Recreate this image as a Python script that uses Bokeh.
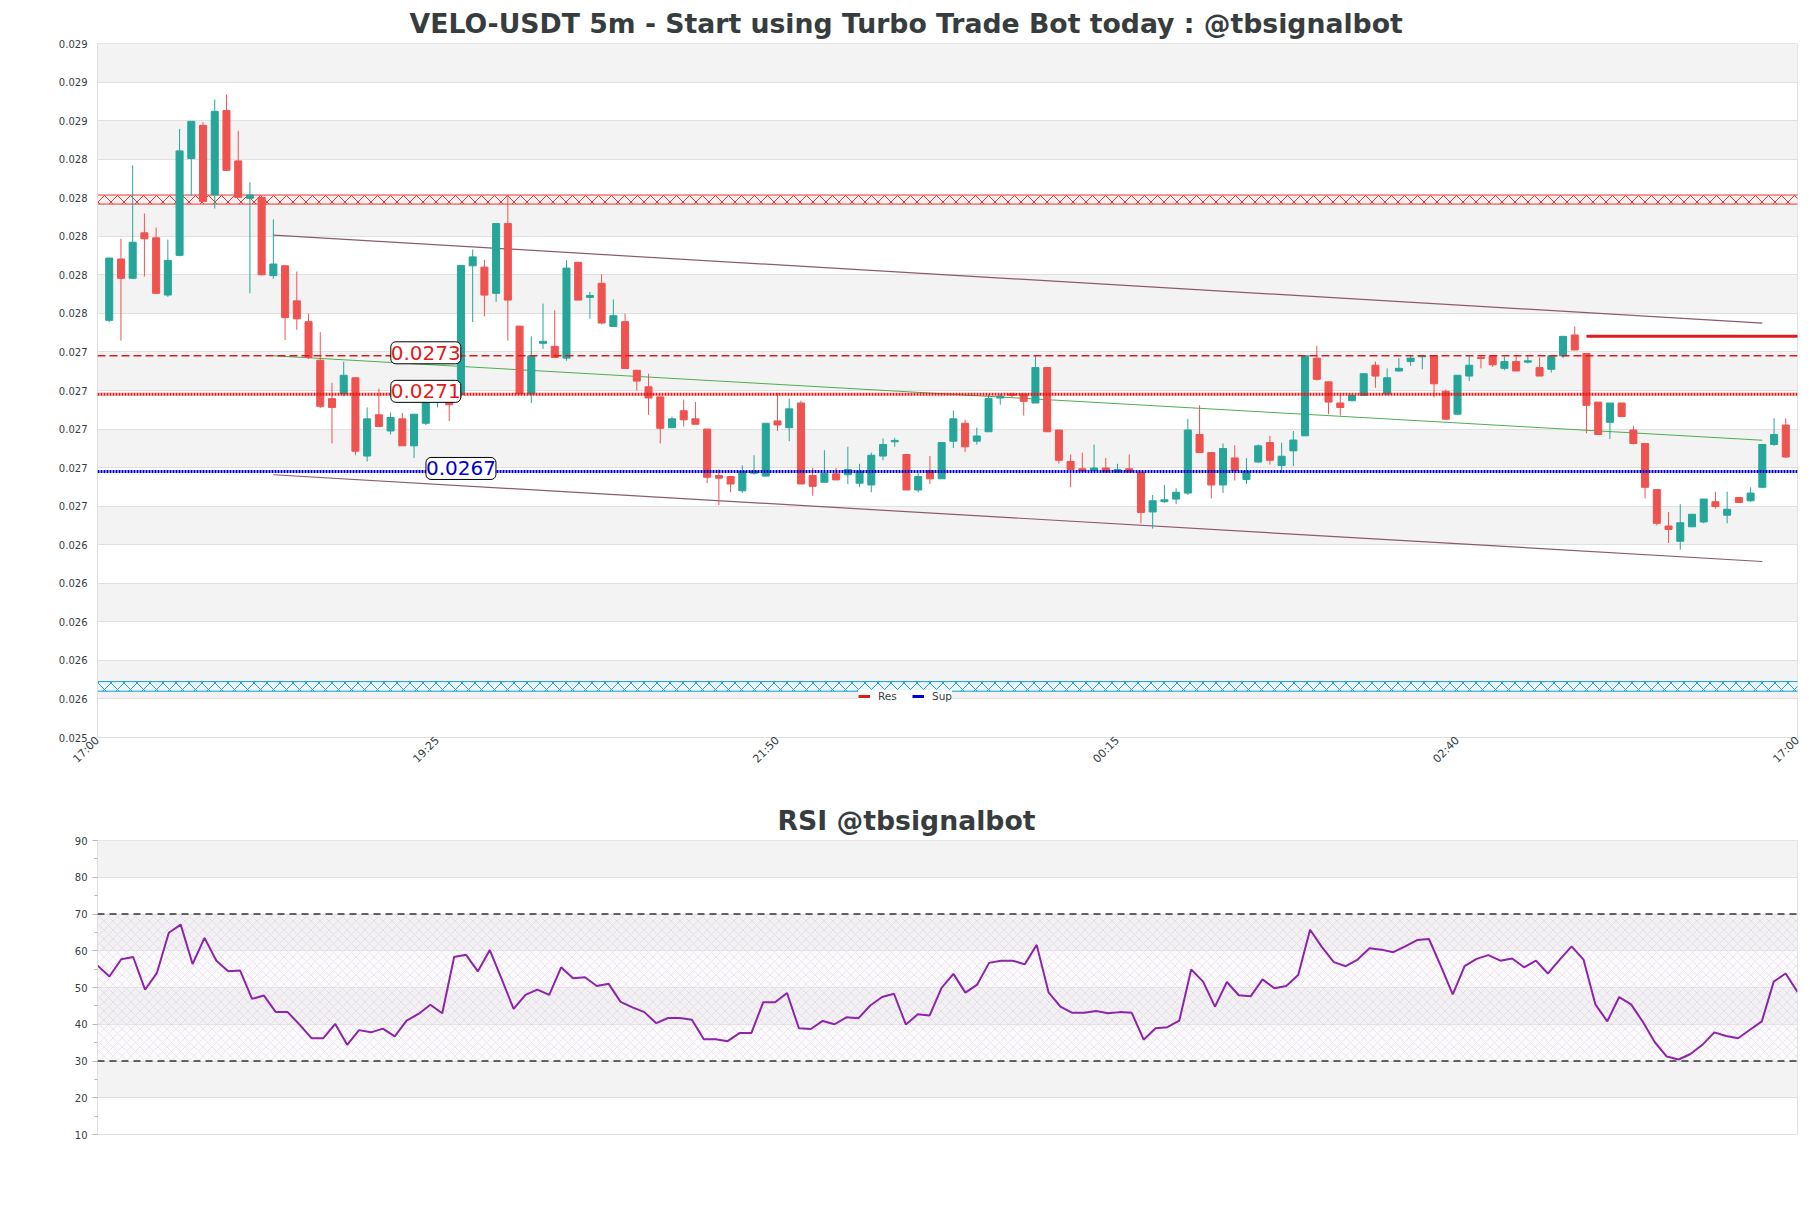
import math
from bokeh.plotting import figure
from bokeh.layouts import column
from bokeh.models import (Range1d, FixedTicker, Span, Label, Legend, LegendItem,
                          ColumnDataSource, PrintfTickFormatter)
from bokeh.embed import file_html
from bokeh.resources import INLINE

# ---------------- data ----------------
opens = [0.027484, 0.027802, 0.027702, 0.027938, 0.027912, 0.027615, 0.027821, 0.028323, 0.028495, 0.028134,
         0.028572, 0.028311, 0.028117, 0.028122, 0.027716, 0.027767, 0.027585, 0.027477, 0.027277, 0.027078,
         0.027102, 0.027186, 0.026780, 0.026994, 0.026910, 0.026973, 0.026833, 0.026950, 0.027081, 0.027064,
         0.027099, 0.027767, 0.027760, 0.027624, 0.027986, 0.027454, 0.027102, 0.027365, 0.027349, 0.027288,
         0.027785, 0.027603, 0.027676, 0.027452, 0.027477, 0.027225, 0.027139, 0.027087, 0.026927, 0.027015,
         0.026973, 0.026920, 0.026679, 0.026674, 0.026600, 0.026691, 0.026676, 0.026962, 0.026927, 0.027055,
         0.026679, 0.026644, 0.026688, 0.026683, 0.026639, 0.026630, 0.026780, 0.026854, 0.026788, 0.026604,
         0.026705, 0.026662, 0.026857, 0.026950, 0.026857, 0.026906, 0.027081, 0.027102, 0.027102, 0.027055,
         0.027239, 0.026915, 0.026752, 0.026714, 0.026705, 0.026718, 0.026697, 0.026714, 0.026697, 0.026490,
         0.026543, 0.026557, 0.026588, 0.026892, 0.026798, 0.026630, 0.026770, 0.026658, 0.026749, 0.026850,
         0.026731, 0.026807, 0.026885, 0.027288, 0.027165, 0.027055, 0.027067, 0.027095, 0.027251, 0.027102,
         0.027221, 0.027270, 0.027295, 0.027300, 0.027116, 0.026997, 0.027195, 0.027291, 0.027300, 0.027235,
         0.027270, 0.027267, 0.027239, 0.027230, 0.027300, 0.027408, 0.027312, 0.027060, 0.026955, 0.027055,
         0.026915, 0.026845, 0.026606, 0.026417, 0.026338, 0.026413, 0.026438, 0.026543, 0.026473, 0.026565,
         0.026548, 0.026618, 0.026840, 0.026941]
highs = [0.027807, 0.027907, 0.028288, 0.028038, 0.027965, 0.027903, 0.028477, 0.028516, 0.028512, 0.028629,
         0.028656, 0.028467, 0.028200, 0.028122, 0.028008, 0.027767, 0.027737, 0.027519, 0.027422, 0.027160,
         0.027270, 0.027186, 0.027032, 0.027130, 0.027006, 0.027003, 0.026997, 0.027081, 0.027143, 0.027130,
         0.027769, 0.027851, 0.027798, 0.027986, 0.028134, 0.027454, 0.027401, 0.027571, 0.027536, 0.027795,
         0.027785, 0.027632, 0.027723, 0.027592, 0.027519, 0.027225, 0.027207, 0.027087, 0.026985, 0.027073,
         0.027060, 0.026920, 0.026710, 0.026674, 0.026731, 0.026784, 0.026950, 0.027108, 0.027078, 0.027067,
         0.026718, 0.026810, 0.026718, 0.026828, 0.026740, 0.026798, 0.026871, 0.026875, 0.026788, 0.026691,
         0.026780, 0.026850, 0.027015, 0.026968, 0.026927, 0.027099, 0.027102, 0.027108, 0.027102, 0.027300,
         0.027239, 0.026915, 0.026788, 0.026798, 0.026840, 0.026770, 0.026740, 0.026788, 0.026697, 0.026578,
         0.026630, 0.026613, 0.026973, 0.027043, 0.026798, 0.026845, 0.026836, 0.026770, 0.026840, 0.026885,
         0.026850, 0.026910, 0.027300, 0.027352, 0.027165, 0.027099, 0.027102, 0.027207, 0.027270, 0.027235,
         0.027288, 0.027305, 0.027305, 0.027300, 0.027125, 0.027199, 0.027300, 0.027300, 0.027300, 0.027295,
         0.027300, 0.027300, 0.027291, 0.027300, 0.027401, 0.027452, 0.027312, 0.027060, 0.027055, 0.027055,
         0.026938, 0.026845, 0.026606, 0.026490, 0.026530, 0.026478, 0.026557, 0.026595, 0.026595, 0.026565,
         0.026618, 0.026840, 0.026976, 0.026976]
lows = [0.027475, 0.027379, 0.027702, 0.027711, 0.027620, 0.027606, 0.027816, 0.028131, 0.028100, 0.028064,
        0.028260, 0.028120, 0.027624, 0.027720, 0.027699, 0.027382, 0.027435, 0.027283, 0.027029, 0.026845,
        0.027090, 0.026784, 0.026752, 0.026933, 0.026892, 0.026833, 0.026770, 0.026941, 0.027032, 0.026962,
        0.027081, 0.027475, 0.027505, 0.027580, 0.027379, 0.027100, 0.027055, 0.027335, 0.027290, 0.027274,
        0.027589, 0.027492, 0.027463, 0.027452, 0.027233, 0.027120, 0.026994, 0.026845, 0.026927, 0.026933,
        0.026945, 0.026640, 0.026525, 0.026592, 0.026588, 0.026683, 0.026676, 0.026910, 0.026857, 0.026635,
        0.026574, 0.026644, 0.026656, 0.026635, 0.026618, 0.026592, 0.026758, 0.026828, 0.026604, 0.026592,
        0.026635, 0.026662, 0.026822, 0.026801, 0.026840, 0.026906, 0.027046, 0.027081, 0.026990, 0.027055,
        0.026906, 0.026740, 0.026618, 0.026697, 0.026700, 0.026693, 0.026693, 0.026693, 0.026431, 0.026403,
        0.026536, 0.026530, 0.026578, 0.026798, 0.026560, 0.026588, 0.026653, 0.026635, 0.026745, 0.026735,
        0.026693, 0.026728, 0.026885, 0.027172, 0.026997, 0.026990, 0.027064, 0.027095, 0.027134, 0.027095,
        0.027218, 0.027248, 0.027230, 0.027085, 0.026971, 0.026994, 0.027169, 0.027235, 0.027242, 0.027225,
        0.027221, 0.027260, 0.027195, 0.027213, 0.027288, 0.027330, 0.026898, 0.026892, 0.026868, 0.026985,
        0.026840, 0.026560, 0.026420, 0.026329, 0.026294, 0.026413, 0.026431, 0.026508, 0.026431, 0.026539,
        0.026543, 0.026618, 0.026833, 0.026770]
closes = [0.027807, 0.027702, 0.027889, 0.027907, 0.027624, 0.027795, 0.028363, 0.028516, 0.028101, 0.028568,
          0.028262, 0.028122, 0.028134, 0.027720, 0.027776, 0.027498, 0.027492, 0.027291, 0.027038, 0.027032,
          0.027199, 0.026805, 0.026973, 0.026933, 0.026980, 0.026833, 0.026997, 0.027064, 0.027108, 0.027046,
          0.027769, 0.027813, 0.027615, 0.027986, 0.027589, 0.027102, 0.027300, 0.027375, 0.027291, 0.027755,
          0.027589, 0.027613, 0.027470, 0.027508, 0.027234, 0.027169, 0.027081, 0.026924, 0.026973, 0.026968,
          0.026945, 0.026670, 0.026665, 0.026635, 0.026700, 0.026702, 0.026950, 0.026941, 0.027025, 0.026635,
          0.026623, 0.026691, 0.026656, 0.026710, 0.026700, 0.026784, 0.026840, 0.026861, 0.026604, 0.026674,
          0.026662, 0.026850, 0.026973, 0.026828, 0.026884, 0.027078, 0.027090, 0.027095, 0.027064, 0.027239,
          0.026906, 0.026758, 0.026710, 0.026702, 0.026718, 0.026697, 0.026709, 0.026697, 0.026487, 0.026548,
          0.026553, 0.026592, 0.026915, 0.026798, 0.026630, 0.026819, 0.026705, 0.026700, 0.026833, 0.026758,
          0.026779, 0.026863, 0.027300, 0.027178, 0.027060, 0.027032, 0.027095, 0.027207, 0.027195, 0.027186,
          0.027235, 0.027288, 0.027300, 0.027155, 0.026971, 0.027199, 0.027251, 0.027286, 0.027253, 0.027270,
          0.027221, 0.027274, 0.027195, 0.027300, 0.027401, 0.027330, 0.027043, 0.026892, 0.027055, 0.026985,
          0.026845, 0.026618, 0.026431, 0.026399, 0.026434, 0.026478, 0.026557, 0.026518, 0.026504, 0.026539,
          0.026588, 0.026840, 0.026892, 0.026775]

rsi = [56.0, 53.0, 57.7, 58.3, 49.4, 54.0, 64.9, 67.1, 56.4, 63.5, 57.3, 54.4, 54.6, 46.9, 47.8, 43.3, 43.3,
       39.9, 36.2, 36.2, 40.1, 34.4, 38.4, 37.8, 38.8, 36.7, 41.0, 42.8, 45.3, 43.0, 58.3, 58.9, 54.4, 60.2,
       52.3, 44.2, 48.0, 49.4, 48.0, 55.5, 52.5, 52.8, 50.4,
       51.0, 46.1, 44.6, 43.3, 40.3, 41.7, 41.7, 41.2, 35.9, 35.9, 35.4, 37.6, 37.6, 46.0, 46.0, 48.5, 38.9,
       38.7, 40.9, 40.0, 41.9, 41.6, 45.1, 47.4, 48.3, 39.9, 42.7, 42.4, 49.9, 53.7, 48.6, 50.8, 56.7, 57.3,
       57.3, 56.3, 61.6, 48.7, 44.8, 43.1, 43.1, 43.6, 43.0, 43.3, 43.1, 35.8, 38.9, 39.2, 41.0, 54.9, 51.6,
       44.8, 51.5, 47.9, 47.6, 52.2, 49.8, 50.4, 53.4, 65.7, 61.0, 56.9, 55.8, 57.6, 60.7, 60.3, 59.6, 61.2,
       62.9, 63.2, 55.8, 48.1, 55.8, 57.8, 58.8, 57.3, 57.9, 55.5, 57.3, 53.8, 57.6, 61.2, 57.6, 45.4, 40.8,
       47.4, 45.4, 40.6, 35.1, 31.2, 30.4, 31.9, 34.4, 37.8, 36.8, 36.2, 38.5, 40.8, 51.6, 53.8, 48.8]

x_tick_labels = ["17:00", "19:25", "21:50", "00:15", "02:40", "17:00"]
x_tick_step = 29

res_levels = [0.0273, 0.0271]
sup_levels = [0.0267]
res_zone = [0.028087, 0.028134]
sup_zone = [0.025560, 0.025610]
trend_x = [15, 142]
upper_channel = [0.027926, 0.027470]
lower_channel = [0.026683, 0.026233]
mid_trend = [0.027300, 0.026862]
target_x = [127, 146]
target_y = [0.027401, 0.027401]

y_min, y_max, y_step = 0.02532, 0.02892, 0.0002
rsi_ticks = [10, 20, 30, 40, 50, 60, 70, 80, 90]
rsi_minor = [15, 25, 35, 45, 55, 65, 75, 85]
rsi_levels = [70, 30]

# ---------------- styles ----------------
GREEN = "#26a69a"
RED = "#ef5350"
LINE_RED = "#e01b1b"
LINE_BLUE = "#0000d0"
TXT = "#373d3f"
GRID = "#e0e0e0"
BAND = "#f3f3f3"
FONT = "DejaVu Sans"
TITLE_SIZE = "26.7px"

n = len(opens)
xs = list(range(1, n + 1))
colors = [GREEN if c >= o else RED for o, c in zip(opens, closes)]
src = ColumnDataSource(dict(
    x=xs, high=highs, low=lows,
    top=[max(o, c) for o, c in zip(opens, closes)],
    bottom=[min(o, c) for o, c in zip(opens, closes)],
    color=colors))

y_ticks = [round(y_min + k * y_step, 6) for k in range(int(round((y_max - y_min) / y_step)) + 1)]
x_ticks = list(range(0, n + 2, x_tick_step))
x_lo, x_hi = -1, n + 3

p = figure(width=1811, height=790, x_range=Range1d(0, n + 1), y_range=Range1d(y_min, y_max),
           output_backend="svg", toolbar_location=None,
           min_border_left=97, min_border_right=14, min_border_top=43, min_border_bottom=53)
p.title.text = "VELO-USDT 5m - Start using Turbo Trade Bot today : @tbsignalbot"
p.title.align = "left"
p.title.offset = 312
p.title.text_font = FONT
p.title.text_font_size = TITLE_SIZE
p.title.text_font_style = "bold"
p.title.text_color = TXT
p.background_fill_color = "white"
p.border_fill_color = "white"
p.outline_line_color = GRID

p.xgrid.visible = False
p.ygrid.ticker = FixedTicker(ticks=y_ticks)
p.ygrid.grid_line_color = GRID
p.ygrid.band_fill_color = BAND
p.ygrid.band_fill_alpha = 1

p.yaxis.ticker = FixedTicker(ticks=y_ticks)
p.yaxis.formatter = PrintfTickFormatter(format="%.3f")
p.yaxis.major_tick_line_color = None
p.yaxis.minor_tick_line_color = None
p.yaxis.major_tick_out = 0
p.yaxis.major_tick_in = 0
p.yaxis.minor_tick_out = 0
p.yaxis.axis_line_color = GRID
p.yaxis.major_label_text_font = FONT
p.yaxis.major_label_text_font_size = "10px"
p.yaxis.major_label_text_color = TXT
p.yaxis.major_label_standoff = 10

p.xaxis.ticker = FixedTicker(ticks=x_ticks)
p.xaxis.major_label_overrides = {t: lab for t, lab in zip(x_ticks, x_tick_labels)}
p.xaxis.major_label_orientation = math.pi / 4
p.xaxis.major_tick_line_color = None
p.xaxis.minor_tick_line_color = None
p.xaxis.major_tick_out = 0
p.xaxis.major_tick_in = 0
p.xaxis.minor_tick_out = 0
p.xaxis.axis_line_color = GRID
p.xaxis.major_label_text_font = FONT
p.xaxis.major_label_text_font_size = "11px"
p.xaxis.major_label_text_color = TXT
p.xaxis.major_label_standoff = 1

# zones
p.quad(left=x_lo, right=x_hi, bottom=res_zone[0], top=res_zone[1], fill_color="#ffecec", fill_alpha=0.7,
       hatch_pattern="diagonal_cross", hatch_color="#e53935", hatch_scale=13, hatch_weight=1,
       line_color="#e53935", line_width=1)
p.quad(left=x_lo, right=x_hi, bottom=sup_zone[0], top=sup_zone[1], fill_color="#e8f6fd", fill_alpha=0.7,
       hatch_pattern="diagonal_cross", hatch_color="#1a9fd9", hatch_scale=13, hatch_weight=1,
       line_color="#1a9fd9", line_width=1)

# channel / trend lines
p.line(trend_x, upper_channel, line_color="#8d5a6e", line_width=1.2)
p.line(trend_x, lower_channel, line_color="#8d5a6e", line_width=1.2)
p.line(trend_x, mid_trend, line_color="#4caf50", line_width=1)

# support / resistance
p.add_layout(Span(location=res_levels[0], dimension="width", line_color=LINE_RED, line_width=1.5, line_dash="8 4"))
p.add_layout(Span(location=res_levels[1], dimension="width", line_color=LINE_RED, line_width=3, line_dash="2 1"))
p.add_layout(Span(location=sup_levels[0], dimension="width", line_color=LINE_BLUE, line_width=3, line_dash="2 1"))

# candles
p.segment(x0="x", y0="low", x1="x", y1="high", line_color="color", line_width=1, source=src)
p.vbar(x="x", width=0.6, top="top", bottom="bottom", fill_color="color", line_color="color", source=src)

p.line(target_x, target_y, line_color=LINE_RED, line_width=3)

# level labels
for lvl, xpos, col in [(res_levels[0], 28, LINE_RED), (res_levels[1], 28, LINE_RED), (sup_levels[0], 31, LINE_BLUE)]:
    p.add_layout(Label(x=xpos, y=lvl, text=f"{lvl:.4f}", text_color=col, text_font=FONT, text_font_size="20px",
                       text_align="center", text_baseline="middle", y_offset=3,
                       background_fill_color="white", background_fill_alpha=1,
                       border_line_color="black", border_line_width=1, border_radius=5, padding=(0, 4)))

# legend (legend-only renderers placed outside the visible x range)
r_res = p.line([x_lo - 2, x_lo - 1], [res_levels[0], res_levels[0]], line_color=LINE_RED, line_width=3)
r_sup = p.line([x_lo - 2, x_lo - 1], [sup_levels[0], sup_levels[0]], line_color=LINE_BLUE, line_width=3)
legend = Legend(items=[LegendItem(label="Res", renderers=[r_res]), LegendItem(label="Sup", renderers=[r_sup])],
                orientation="horizontal", location=(761, 35), background_fill_color="white",
                background_fill_alpha=1, border_line_color=None, label_text_font=FONT,
                label_text_font_size="10.5px", label_text_color=TXT, glyph_width=12, glyph_height=10,
                padding=3, spacing=14, label_standoff=8, margin=0)
p.add_layout(legend)

# ---------------- RSI ----------------
m = len(rsi)
p2 = figure(width=1811, height=418, x_range=Range1d(0, m - 1), y_range=Range1d(rsi_ticks[0], rsi_ticks[-1]),
            output_backend="svg", toolbar_location=None, x_axis_location=None,
            min_border_left=97, min_border_right=14, min_border_top=50, min_border_bottom=74)
p2.title.text = "RSI @tbsignalbot"
p2.title.align = "left"
p2.title.offset = 680
p2.title.text_font = FONT
p2.title.text_font_size = TITLE_SIZE
p2.title.text_font_style = "bold"
p2.title.text_color = TXT
p2.outline_line_color = GRID
p2.xgrid.visible = False
p2.ygrid.ticker = FixedTicker(ticks=rsi_ticks)
p2.ygrid.grid_line_color = GRID
p2.ygrid.band_fill_color = BAND
p2.ygrid.band_fill_alpha = 1
p2.yaxis.ticker = FixedTicker(ticks=rsi_ticks, minor_ticks=rsi_minor)
p2.yaxis.axis_line_color = GRID
p2.yaxis.major_tick_line_color = "#b6b6b6"
p2.yaxis.minor_tick_line_color = "#b6b6b6"
p2.yaxis.major_tick_out = 5
p2.yaxis.major_tick_in = 0
p2.yaxis.minor_tick_out = 3
p2.yaxis.minor_tick_in = 0
p2.yaxis.major_label_standoff = 5
p2.yaxis.major_label_text_font = FONT
p2.yaxis.major_label_text_font_size = "10px"
p2.yaxis.major_label_text_color = TXT

p2.quad(left=-1, right=m, bottom=rsi_levels[1], top=rsi_levels[0], fill_color="#f4eef6", fill_alpha=0.3,
        hatch_pattern="diagonal_cross", hatch_color="#c2b8cc", hatch_alpha=0.45, hatch_scale=9,
        hatch_weight=0.7, line_color=None)
for lvl in rsi_levels:
    p2.add_layout(Span(location=lvl, dimension="width", line_color="#333333", line_width=1.3, line_dash="7 5"))
p2.line(list(range(m)), rsi, line_color="#8e24aa", line_width=2)

layout = column(p, p2, spacing=0)
open("out.html", "w").write(file_html(layout, INLINE))
